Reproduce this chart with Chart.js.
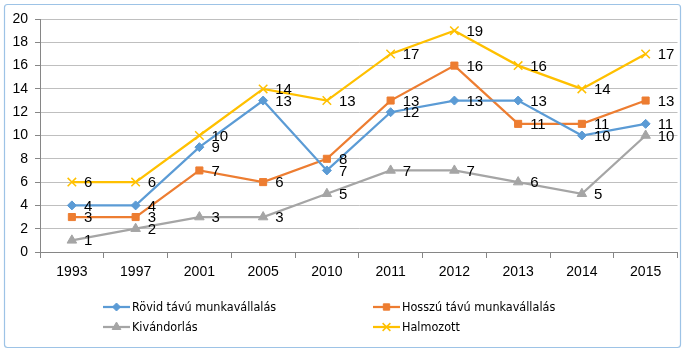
<!DOCTYPE html>
<html><head><meta charset="utf-8">
<script src="https://cdn.jsdelivr.net/npm/chart.js@4/dist/chart.umd.min.js"></script>
<style>html,body{margin:0;padding:0;background:#fff}#wrap{width:685px;height:353px;position:relative}</style>
</head><body><div id="wrap"><canvas id="c" width="685" height="353"></canvas></div>
<script>
const categories = ['1993','1997','2001','2005','2010','2011','2012','2013','2014','2015'];
const rovid = [4,4,9,13,7,12,13,13,10,11];
const hosszu = [3,3,7,6,8,13,16,11,11,13];
const kivandorlas = [1,2,3,3,5,7,7,6,5,10];
const halmozott = [6,6,10,14,13,17,19,16,14,17];
const seriesNames = ['Rövid távú munkavállalás','Hosszú távú munkavállalás','Kivándorlás','Halmozott'];
const yTicks = [0,2,4,6,8,10,12,14,16,18,20];

const colors = ['#5B9BD5','#ED7D31','#A5A5A5','#FFC000'];
const styles = ['rectRot','rect','triangle','crossRot'];
const radii = [4.5,5,5.5,6];

function ds(i, data){
  return {label: seriesNames[i], data, borderColor: colors[i], backgroundColor: colors[i],
    borderWidth: 2.25, pointStyle: styles[i], pointRadius: radii[i], pointHoverRadius: radii[i],
    pointBorderWidth: i===3?1.5:1, tension: 0};
}

const frame = {
  id:'frame',
  beforeDraw(chart){
    const c = chart.ctx;
    c.save();
    c.fillStyle='#fff'; c.fillRect(0,0,chart.width,chart.height);
    c.strokeStyle='#9DC3E6'; c.lineWidth=1.2;
    c.beginPath();
    if (c.roundRect) c.roundRect(4.5,4.5,676,343,3); else c.rect(4.5,4.5,676,343);
    c.stroke();
    c.restore();
  }
};

const labelsPlugin = {
  id:'dlabels',
  afterDatasetsDraw(chart){
    const c = chart.ctx;
    c.save();
    c.font = '15px "Liberation Sans", Arial, sans-serif';
    c.fillStyle = '#000';
    c.textBaseline = 'middle';
    c.textAlign = 'left';
    chart.data.datasets.forEach((d, i) => {
      const meta = chart.getDatasetMeta(i);
      meta.data.forEach((pt, j) => {
        c.fillText(String(d.data[j]), pt.x + 12, pt.y + 1);
      });
    });
    c.restore();
  }
};

const legendPlugin = {
  id:'customLegend',
  afterDraw(chart){
    const c = chart.ctx;
    c.save();
    c.font = '12.5px "DejaVu Sans Condensed", "DejaVu Sans", sans-serif';
    c.textBaseline = 'middle';
    const pos = [[103,307],[373,307],[103,327],[373,327]];
    chart.data.datasets.forEach((d,i)=>{
      const [x,y] = pos[i];
      c.strokeStyle = d.borderColor; c.lineWidth = 2.25;
      c.beginPath(); c.moveTo(x,y); c.lineTo(x+27,y); c.stroke();
      c.fillStyle = d.backgroundColor; c.strokeStyle = d.borderColor; c.lineWidth = d.pointBorderWidth;
      Chart.helpers.drawPoint(c, {pointStyle: d.pointStyle, radius: d.pointRadius-0.5, borderWidth: d.pointBorderWidth, rotation:0}, x+13.5, y);
      c.fillStyle = '#000';
      c.fillText(d.label, x+29, y+1);
    });
    c.restore();
  }
};

new Chart(document.getElementById('c'), {
  type:'line',
  data:{labels: categories, datasets:[ds(0,rovid), ds(1,hosszu), ds(2,kivandorlas), ds(3,halmozott)]},
  options:{
    responsive:false, animation:false, devicePixelRatio:1,
    layout:{padding:{left:0,right:5,top:19,bottom:61}},
    plugins:{legend:{display:false}, tooltip:{enabled:false}},
    scales:{
      x:{
        offset:true,
        grid:{display:true, offset:true, drawOnChartArea:false, drawTicks:true, tickLength:6, color:'#868686'},
        border:{display:true, color:'#868686', width:1},
        ticks:{color:'#000', font:{family:'"Liberation Sans", Arial, sans-serif', size:14}, padding:6, maxRotation:0, autoSkip:false},
        afterFit(s){ s.height = 40; }
      },
      y:{
        min:0, max:20,
        afterBuildTicks(s){ s.ticks = yTicks.map(v=>({value:v})); },
        grid:{color:'#BFBFBF', tickLength:5, drawTicks:true, tickColor:'#868686'},
        border:{display:true, color:'#868686', width:1},
        ticks:{color:'#000', font:{family:'"Liberation Sans", Arial, sans-serif', size:14}, padding:7},
        afterFit(s){ s.width = 40; }
      }
    }
  },
  plugins:[frame, labelsPlugin, legendPlugin]
});
</script></body></html>
